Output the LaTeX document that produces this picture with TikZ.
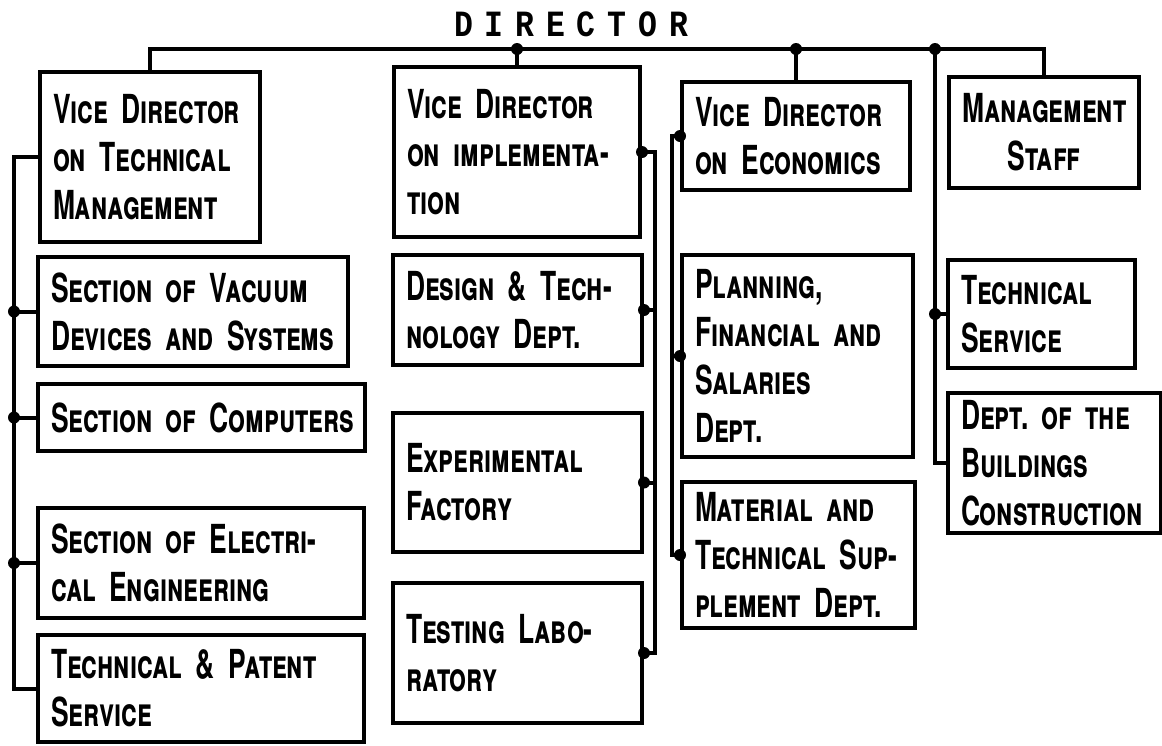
\documentclass[tikz,border=0pt]{standalone}
\usepackage{fontspec}
\setmainfont[FakeStretch=0.66]{TeX Gyre Heros}
\newfontfamily\titlefont[LetterSpace=32, FakeStretch=0.85]{Liberation Mono}
\usetikzlibrary{positioning}

\tikzstyle{unit} = [rectangle, draw=black, line width=4pt, align=left,
  inner xsep=13pt, inner ysep=0pt,
  execute at begin node={\hyphenpenalty=10000},
  font={\fontsize{40}{48}\selectfont\bfseries\scshape}]
\tikzstyle{title} = [font={\fontsize{37}{37}\selectfont\titlefont\bfseries}]
\tikzstyle{line} = [line width=4pt]

\begin{document}
\begin{tikzpicture}[x=1pt, y=-1pt]
  \useasboundingbox (0,0) rectangle (1162,745);

  %% Director and the bus below it
  \node (director) [title] at (571,24) {DIRECTOR};
  \coordinate (bus) at (0,49);

  %% Heads of the four branches
  \node (vdtech) [unit, minimum width=220pt, minimum height=170pt, text width=194pt] at (150,157) {Vice~Director\\on~Technical\\Management};
  \node (vdimpl) [unit, minimum width=246pt, minimum height=170pt, text width=220pt] at (517,152) {Vice~Director\\on~implementa-\\tion};
  \node (vdecon) [unit, minimum width=228pt, minimum height=108pt, text width=202pt] at (796,136) {Vice~Director\\on~Economics};
  \node (staff) [unit, align=center, minimum width=190pt, minimum height=111pt, text width=164pt] at (1044,132.5) {Management\\Staff};

  %% Technical management
  \node (vacuum) [unit, minimum width=310pt, minimum height=109pt, text width=284pt] at (193,311.5) {Section~of~Vacuum\\Devices~and~Systems};
  \node (computers) [unit, minimum width=327pt, minimum height=67pt, text width=301pt] at (201.5,417.5) {Section~of~Computers};
  \node (electrical) [unit, minimum width=326pt, minimum height=110pt, text width=300pt] at (201,563) {Section~of~Electri-\\cal~Engineering};
  \node (patent) [unit, minimum width=326pt, minimum height=107pt, text width=300pt] at (201,688.5) {Technical~\&~Patent\\Service};

  %% Implementation
  \node (design) [unit, minimum width=249pt, minimum height=110pt, text width=223pt] at (517.5,310) {Design~\&~Tech-\\nology~Dept.};
  \node (experimental) [unit, minimum width=249pt, minimum height=139pt, text width=223pt] at (517.5,482.5) {Experimental\\Factory};
  \node (testing) [unit, minimum width=249pt, minimum height=140pt, text width=223pt] at (517.5,653) {Testing~Labo-\\ratory};

  %% Economics
  \node (planning) [unit, minimum width=231pt, minimum height=202pt, text width=205pt] at (797.5,356) {Planning,\\Financial~and\\Salaries\\Dept.};
  \node (material) [unit, minimum width=233pt, minimum height=146pt, text width=207pt] at (798.5,555) {Material~and\\Technical~Sup-\\plement~Dept.};

  %% Directly under the director
  \node (techserv) [unit, minimum width=187pt, minimum height=108pt, text width=161pt] at (1041.5,314) {Technical\\Service};
  \node (buildings) [unit, minimum width=213pt, minimum height=140pt, text width=187pt] at (1054.5,463) {Dept.~of~the\\Buildings\\Construction};

  %% Bus from the director
  \draw [line] (vdtech.north) |- (staff.north |- bus) -- (staff.north);
  \draw [line] (vdimpl.north) -- (vdimpl.north |- bus);
  \draw [line] (vdecon.north) -- (vdecon.north |- bus);
  \fill (vdimpl.north |- bus) circle (6pt);
  \fill (vdecon.north |- bus) circle (6pt);

  %% Left spine
  \coordinate (spine1) at (14,0);
  \draw [line] (vdtech.west) -- (vdtech.west -| spine1) |- (patent.west);
  \draw [line] (vacuum.west) -- (vacuum.west -| spine1);
  \draw [line] (computers.west) -- (computers.west -| spine1);
  \draw [line] (electrical.west) -- (electrical.west -| spine1);
  \fill (vacuum.west -| spine1) circle (6pt);
  \fill (computers.west -| spine1) circle (6pt);
  \fill (electrical.west -| spine1) circle (6pt);

  %% Implementation spine, on the right of the boxes
  \coordinate (spine2) at (655,0);
  \draw [line] (vdimpl.east) -- (vdimpl.east -| spine2) |- (testing.east);
  \draw [line] (design.east) -- (design.east -| spine2);
  \draw [line] (experimental.east) -- (experimental.east -| spine2);
  \fill (vdimpl.east) circle (6pt);
  \fill (design.east) circle (6pt);
  \fill (experimental.east) circle (6pt);
  \fill (testing.east) circle (6pt);

  %% Economics spine
  \coordinate (spine3) at (672,0);
  \draw [line] (vdecon.west) -- (vdecon.west -| spine3) |- (material.west);
  \draw [line] (planning.west) -- (planning.west -| spine3);
  \fill (vdecon.west) circle (6pt);
  \fill (planning.west) circle (6pt);
  \fill (material.west) circle (6pt);

  %% Spine straight from the bus
  \coordinate (spine4) at (935,49);
  \draw [line] (spine4) |- (buildings.west);
  \draw [line] (techserv.west) -- (techserv.west -| spine4);
  \fill (spine4) circle (6pt);
  \fill (techserv.west -| spine4) circle (6pt);

\end{tikzpicture}
\end{document}
